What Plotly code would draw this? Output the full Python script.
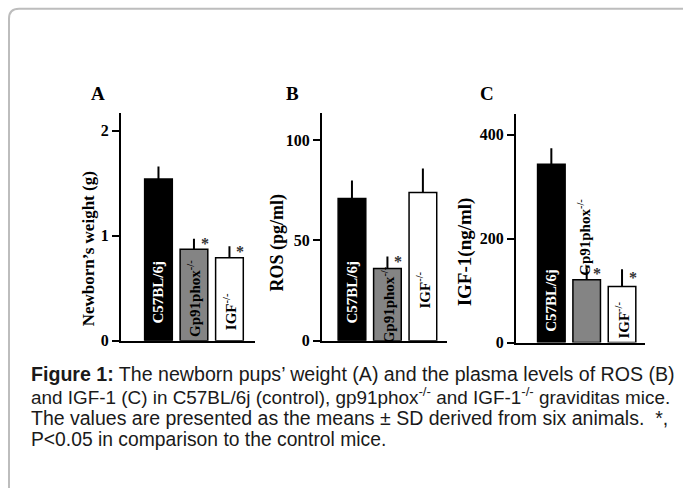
import plotly.graph_objects as go

W, H = 683, 492

# ---------------- data ----------------
groups = ["C57BL/6j", "Gp91phox<sup>-/-</sup>", "IGF<sup>-/-</sup>"]
bar_colors = ["#000000", "#848484", "#ffffff"]
label_colors = ["#ffffff", "#000000", "#000000"]

weight_mean = [1.54, 0.87, 0.79]
weight_sd = [0.12, 0.10, 0.11]
weight_sig = [False, True, True]

ros_mean = [71, 36, 74]
ros_sd = [9, 6, 12]
ros_sig = [False, True, False]

igf_mean = [343, 121, 108]
igf_sd = [31, 22, 33]
igf_sig = [False, True, True]

panel_letters = ["A", "B", "C"]
y_titles = ["Newborn’s weight (g)", "ROS (pg/ml)", "IGF-1(ng/ml)"]
y_ticks = [[0, 1, 2], [0, 50, 100], [0, 200, 400]]
y_ranges = [[0, 2.17], [0, 113.7], [0, 440]]

caption_lines = [
    "<b>Figure 1:</b> The newborn pups’ weight (A) and the plasma levels of ROS (B)",
    "and IGF-1 (C) in C57BL/6j (control), gp91phox<sup>-/-</sup> and IGF-1<sup>-/-</sup> graviditas mice.",
    "The values are presented as the means ± SD derived from six animals.  *,",
    "P&lt;0.05 in comparison to the control mice.",
]

# ---------------- layout helpers (pixel -> paper) ----------------
def px(x):
    return x / W

def py(y):
    return 1 - y / H

panels = [
    dict(mean=weight_mean, sd=weight_sd, sig=weight_sig,
         x0=121, x1=255, yb=347, yt=115, xr=[-1.056, 2.72],
         lab_pos=[0.213, 0.1875, 0.127], lab_out=[False, False, False],
         title_x=88, title_y=254, title_size=17, letter_x=98),
    dict(mean=ros_mean, sd=ros_sd, sig=ros_sig,
         x0=322, x1=447, yb=347, yt=115, xr=[-0.845, 2.68],
         lab_pos=[0.2155, 0.157, 0.224], lab_out=[False, False, False],
         title_x=277, title_y=247, title_size=18, letter_x=292),
    dict(mean=igf_mean, sd=igf_sd, sig=igf_sig,
         x0=516, x1=645, yb=349, yt=116, xr=[-1.0, 2.65],
         lab_pos=[0.1845, 0.468, 0.0966], lab_out=[False, True, False],
         title_x=465, title_y=257, title_size=19, letter_x=487),
]

serif = "Liberation Serif"
fig = go.Figure()
annotations = []

for i, p in enumerate(panels):
    n = i + 1
    xa = "x" if n == 1 else f"x{n}"
    ya = "y" if n == 1 else f"y{n}"
    fig.add_trace(go.Bar(
        x=groups, y=p["mean"], xaxis=xa, yaxis=ya,
        width=0.78,
        marker=dict(color=bar_colors, line=dict(color="#000000", width=1.5)),
        error_y=dict(type="data", array=p["sd"], arrayminus=[0] * len(p["sd"]),
                     symmetric=False, color="#000000", thickness=2, width=0),
        showlegend=False, hoverinfo="skip",
    ))
    lay_x = "xaxis" if n == 1 else f"xaxis{n}"
    lay_y = "yaxis" if n == 1 else f"yaxis{n}"
    fig.layout[lay_x] = dict(
        domain=[px(p["x0"]), px(p["x1"])], anchor=ya, range=p["xr"],
        showticklabels=False, ticks="", showgrid=False, zeroline=False,
        showline=True, linecolor="#000000", linewidth=2, fixedrange=True,
    )
    fig.layout[lay_y] = dict(
        domain=[py(p["yb"]), py(p["yt"])], anchor=xa, range=y_ranges[i],
        tickmode="array", tickvals=y_ticks[i], ticks="outside", ticklen=7,
        tickwidth=2, tickcolor="#000000", showgrid=False, zeroline=False,
        showline=True, linecolor="#000000", linewidth=2,
        tickfont=dict(family=serif, size=16, color="#000000", weight="bold"),
    )
    # y title
    annotations.append(dict(
        text=y_titles[i], xref="paper", yref="paper",
        x=px(p["title_x"]), y=py(p["title_y"]), xanchor="center", yanchor="middle",
        textangle=-90, showarrow=False,
        font=dict(family=serif, size=p["title_size"], color="#000000", weight="bold"),
    ))
    # panel letter
    annotations.append(dict(
        text=panel_letters[i], xref="paper", yref="paper",
        x=px(p["letter_x"]), y=py(95), xanchor="center", yanchor="middle",
        showarrow=False,
        font=dict(family=serif, size=19, color="#000000", weight="bold"),
    ))
    for j, g in enumerate(groups):
        if p["lab_out"][j]:
            annotations.append(dict(
                text=g, xref=xa, yref=ya, x=j - 0.08, y=p["mean"][j] + p["sd"][j] * 0.2,
                xanchor="center", yanchor="bottom", textangle=-90, showarrow=False,
                font=dict(family=serif, size=15, color=label_colors[j], weight="bold"),
            ))
        else:
            annotations.append(dict(
                text=g, xref=xa, yref=f"{ya} domain", x=j, y=p["lab_pos"][j],
                xanchor="center", yanchor="middle", textangle=-90, showarrow=False,
                font=dict(family=serif, size=15, color=label_colors[j], weight="bold"),
            ))
        if p["sig"][j]:
            annotations.append(dict(
                text="*", xref=xa, yref=ya, x=j + 0.3,
                y=p["mean"][j] + p["sd"][j] * 0.55,
                xanchor="center", yanchor="middle", showarrow=False,
                font=dict(family=serif, size=16, color="#333333", weight="bold"),
            ))

caption_y = [381, 403, 425.5, 448]
caption_size = [19.6, 18.9, 19.5, 19.3]
for line, yy, fs in zip(caption_lines, caption_y, caption_size):
    annotations.append(dict(
        text=line, xref="paper", yref="paper", x=px(30), y=py(yy),
        xanchor="left", yanchor="middle", showarrow=False, align="left",
        borderpad=0,
        font=dict(family="Liberation Sans", size=fs, color="#1a1a1a"),
    ))

r = 10
x0, y0 = px(9), py(9)
border_path = (
    f"M {x0},{py(H + 5)} L {x0},{py(9 + r)} "
    f"Q {x0},{y0} {px(9 + r)},{y0} L {px(W + 5)},{y0}"
)

fig.update_layout(
    width=W, height=H, margin=dict(l=0, r=0, t=0, b=0),
    paper_bgcolor="#ffffff", plot_bgcolor="#ffffff",
    bargap=0.2, annotations=annotations,
    shapes=[dict(type="path", xref="paper", yref="paper", path=border_path,
                 line=dict(color="#bdbdbd", width=2))],
)

fig.write_html(
    "out.html",
    config={"displayModeBar": False},
    post_script="document.body.style.margin='0px';document.body.style.overflow='hidden';",
)
